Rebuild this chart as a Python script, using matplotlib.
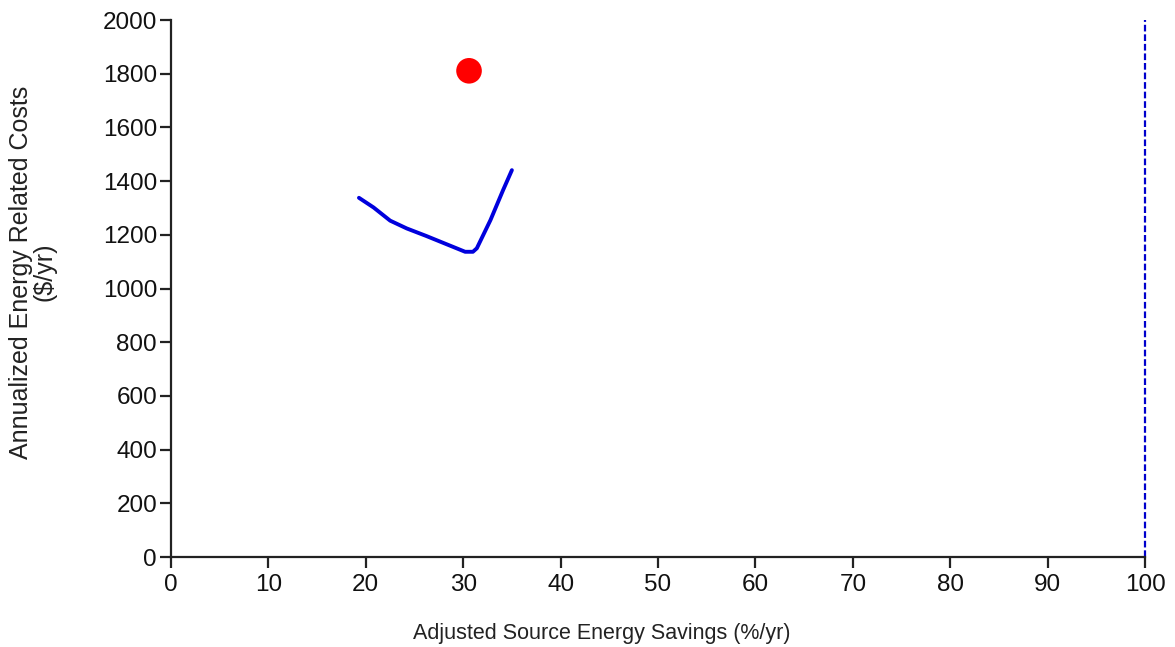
import matplotlib
matplotlib.use("Agg")
import matplotlib.pyplot as plt

# Cost curve: adjusted source energy savings (%/yr) vs annualized cost ($/yr)
savings = [19.3, 20.8, 22.5, 24.2, 26.2, 28.3, 30.2, 31.0, 31.4, 32.8, 34.1, 35.0]
costs = [1338, 1302, 1253, 1224, 1196, 1165, 1137, 1137, 1150, 1255, 1367, 1441]

# Reference building point
ref_savings = [30.6]
ref_cost = [1811]

# Maximum savings limit
limit_x = 100

x_ticks = list(range(0, 101, 10))
y_ticks = list(range(0, 2001, 200))

plt.rcParams['font.family'] = ['Liberation Sans', 'DejaVu Sans']

fig = plt.figure(figsize=(11.75, 6.47), dpi=100)
ax = fig.add_axes([0.1455, 0.139, 0.829, 0.830])

ax.plot(savings, costs, color='#0000dd', lw=2.8, solid_capstyle='round', zorder=3)
ax.scatter(ref_savings, ref_cost, s=340, color='#ff0000', zorder=4, edgecolors='none')
ax.plot([limit_x, limit_x], [0, 2000], color='#0000cc', lw=1.6,
        linestyle=(0, (3, 1.3)), zorder=2, clip_on=False)

ax.set_xlim(0, 100)
ax.set_ylim(0, 2000)
ax.set_xticks(x_ticks)
ax.set_yticks(y_ticks)

for side in ('top', 'right'):
    ax.spines[side].set_visible(False)
for side in ('left', 'bottom'):
    ax.spines[side].set_linewidth(1.6)
    ax.spines[side].set_color('#222222')

ax.tick_params(axis='both', direction='out', length=8, width=1.6,
               color='#222222', labelsize=17.5, labelcolor='#111111', pad=2)
ax.tick_params(axis='x', pad=4)

fig.text(602 / 1175, 1 - 634 / 647, 'Adjusted Source Energy Savings (%/yr)',
         fontsize=15.5, color='#222222', ha='center', va='center')
fig.text(33 / 1175, 1 - 272 / 647, 'Annualized Energy Related Costs\n($/yr)',
         fontsize=18, color='#222222', ha='center', va='center',
         rotation=90, linespacing=0.95, multialignment='center')

fig.savefig('out.png', dpi=100)
